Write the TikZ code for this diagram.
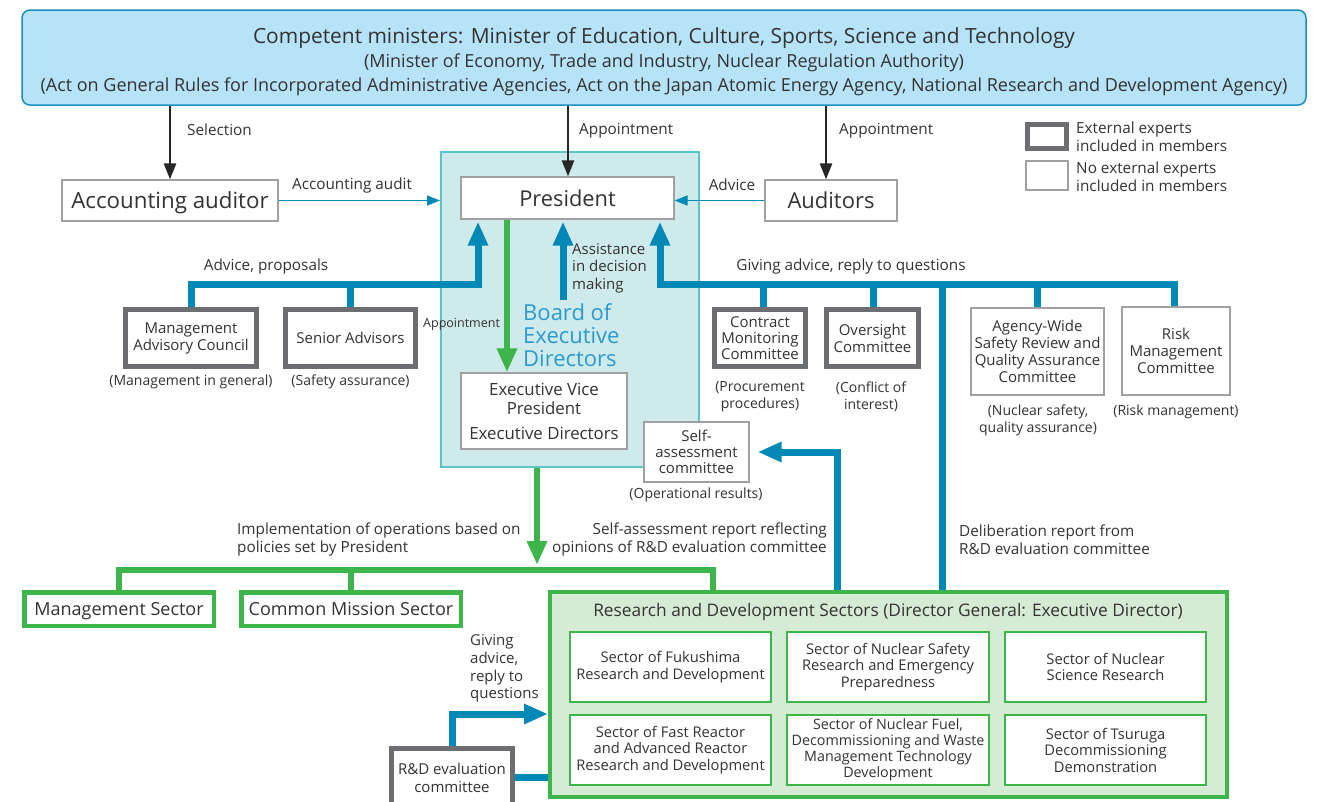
\documentclass[tikz,border=0pt]{standalone}
\usepackage{fontspec}
\setmainfont{Open Sans}
\usetikzlibrary{arrows.meta,calc}
\definecolor{topfill}{HTML}{B6E3F7}
\definecolor{topdraw}{HTML}{1B8DC0}
\definecolor{blu}{HTML}{0089B7}
\definecolor{boardfill}{HTML}{CFEAEA}
\definecolor{boarddraw}{HTML}{5BC4C4}
\definecolor{boardtxt}{HTML}{2A9AD0}
\definecolor{grn}{HTML}{3DB54A}
\definecolor{rdfill}{HTML}{D6EBD3}
\definecolor{thickgray}{HTML}{6D6E71}
\definecolor{thingray}{HTML}{A0A0A0}
\definecolor{txt}{HTML}{333333}
\newcommand\myfs[2]{\fontsize{#1}{#2}\selectfont}
\begin{document}
\begin{tikzpicture}[x=1pt,y=-1pt,
  box/.style={draw=thingray, line width=1.2pt, fill=white, inner sep=0pt, align=center, text=txt, font=\myfs{15}{17}},
  xbox/.style={box, draw=thickgray, line width=5pt},
  gbox/.style={box, draw=grn, line width=4.5pt, font=\myfs{18}{20}, text depth=0pt},
  sbox/.style={box, draw=grn, line width=2pt, font=\myfs{14.7}{16.5}},
  lab/.style={text=txt, font=\myfs{15.3}{18}, inner sep=0pt},
  captxt/.style={text=txt, font=\myfs{14}{17}, inner sep=0pt, align=center},
  blk/.style={line width=2.5pt, draw=black!85, -{Triangle[width=12pt,length=16pt]}},
  bthin/.style={line width=1.5pt, draw=blu, -{Triangle[width=10pt,length=13pt]}},
  bthick/.style={line width=7pt, draw=blu},
  barrow/.style={bthick, -{Triangle[width=19pt,length=24pt]}},
  gline/.style={line width=6.5pt, draw=grn},
  garrow/.style={gline, -{Triangle[width=19pt,length=24pt]}}
]
\useasboundingbox (0,0) rectangle (1329,801);
\clip (0,0) rectangle (1329,801);
\fill[white] (0,0) rectangle (1329,801);

% top box
\node[draw=topdraw, fill=topfill, line width=1.5pt, rounded corners=8pt, minimum width=1284, minimum height=95, inner sep=0pt] (top) at (664,57.5) {};
\node[align=center, text=txt, font=\myfs{18}{24}, inner sep=0pt] (toptxt) at (664,61.5)
 {{\myfs{20.9}{24}Competent ministers: Minister of Education, Culture, Sports, Science and Technology}\\
  (Minister of Economy, Trade and Industry, Nuclear Regulation Authority)\\
  (Act on General Rules for Incorporated Administrative Agencies, Act on the Japan Atomic Energy Agency, National Research and Development Agency)};

% board
\node[draw=boarddraw, fill=boardfill, line width=2pt, minimum width=258, minimum height=315, inner sep=0pt] (board) at (570,309.5) {};
\node[text=boardtxt, font=\myfs{22}{23}, align=left, anchor=north west, inner sep=0pt] (boardlab) at (523,303) {Board of\\Executive\\Directors};

% main boxes
\node[box, minimum width=216, minimum height=41, font=\myfs{22.3}{24}, text depth=0pt] (acc) at (170,200.5) {Accounting auditor};
\node[box, minimum width=213, minimum height=42, font=\myfs{21.8}{24}] (pres) at (567.5,198) {President};
\node[box, minimum width=132, minimum height=41, font=\myfs{22}{24}, text depth=0pt] (aud) at (831,200.5) {Auditors};
\node[box, minimum width=166, minimum height=76, font=\myfs{16.8}{19}] (evp) at (544,411) {Executive Vice\\President\\[6pt]Executive Directors};
\node[box, minimum width=105, minimum height=60, font=\myfs{15}{16}] (sac) at (696.5,452) {Self-\\assessment\\committee};

% committees
\node[xbox, minimum width=131, minimum height=57] (mac) at (191,338) {Management\\Advisory Council};
\node[xbox, minimum width=130, minimum height=57] (sen) at (350.5,338) {Senior Advisors};
\node[xbox, minimum width=91, minimum height=57, font=\myfs{15}{16.3}] (cmc) at (760,338) {Contract\\Monitoring\\Committee};
\node[xbox, minimum width=92, minimum height=57] (ovs) at (872.5,338) {Oversight\\Committee};
\node[box, minimum width=133, minimum height=87] (aws) at (1037.5,351.5) {Agency-Wide\\Safety Review and\\Quality Assurance\\Committee};
\node[box, minimum width=108, minimum height=88] (risk) at (1176,351) {Risk\\Management\\Committee};

% captions
\node[captxt] (capmac) at (191,382) {(Management in general)};
\node[captxt] (capsen) at (350.5,382) {(Safety assurance)};
\node[captxt] (capcmc) at (760,397) {(Procurement\\procedures)};
\node[captxt] (capovs) at (871,397) {(Conflict of\\interest)};
\node[captxt] (capaws) at (1038,420) {(Nuclear safety,\\quality assurance)};
\node[captxt] (caprisk) at (1176,412) {(Risk management)};
\node[captxt] (capsac) at (696,495) {(Operational results)};

% legend
\node[draw=thickgray, line width=5pt, minimum width=39, minimum height=24, inner sep=0pt] (leg1) at (1047,136.5) {};
\node[draw=thingray, line width=1.2pt, minimum width=42, minimum height=29, inner sep=0pt] (leg2) at (1047,175.5) {};
\node[lab, anchor=west, align=left] (leg1t) at (1076,137) {External experts\\included in members};
\node[lab, anchor=west, align=left] (leg2t) at (1076,177) {No external experts\\included in members};

% sectors
\node[gbox, minimum width=189.5, minimum height=33.5] (mgmt) at (119,609) {Management Sector};
\node[gbox, minimum width=219.5, minimum height=33.5] (cms) at (351,609) {Common Mission Sector};
\node[draw=grn, fill=rdfill, line width=4pt, minimum width=677, minimum height=205, inner sep=0pt] (rd) at (888.5,694.5) {};
\node[text=txt, font=\myfs{17.3}{20}, inner sep=0pt] (rdtitle) at (888,612) {Research and Development Sectors (Director General: Executive Director)};
\node[sbox, minimum width=201, minimum height=70] (s1) at (670.5,667) {Sector of Fukushima\\Research and Development};
\node[sbox, minimum width=202, minimum height=70] (s2) at (888,667) {Sector of Nuclear Safety\\Research and Emergency\\Preparedness};
\node[sbox, minimum width=201, minimum height=70] (s3) at (1105.5,667) {Sector of Nuclear\\Science Research};
\node[sbox, minimum width=201, minimum height=70] (s4) at (670.5,750) {Sector of Fast Reactor\\and Advanced Reactor\\Research and Development};
\node[sbox, minimum width=202, minimum height=70, font=\myfs{14.3}{16}] (s5) at (888,750) {Sector of Nuclear Fuel,\\Decommissioning and Waste\\Management Technology\\Development};
\node[sbox, minimum width=201, minimum height=70] (s6) at (1105.5,750) {Sector of Tsuruga\\Decommissioning\\Demonstration};
\node[xbox, minimum width=121, minimum height=60, font=\myfs{15}{18}] (rdeval) at (452,778) {R\&D evaluation\\committee};

% black arrows
\draw[blk] (top.south -| acc.north) -- (acc.north);
\draw[blk] ([xshift=0.5]top.south -| pres.north) -- ([xshift=0.5]pres.north);
\draw[blk] ([xshift=-5]top.south -| aud.north) -- ([xshift=-5]aud.north);
\node[lab, anchor=west] (lsel) at (187,130) {Selection};
\node[lab, anchor=west] (lapp1) at (579,131) {Appointment};
\node[lab, anchor=west] (lapp2) at (839,131) {Appointment};

% thin blue arrows
\draw[bthin] (acc.east) -- (acc.east -| board.west);
\node[lab] (lacc) at (352,186) {Accounting audit};
\draw[bthin] (aud.west) -- (aud.west -| pres.east);
\node[lab] (ladv) at (732,185) {Advice};

% thick blue left branch
\coordinate (lj) at (478,284);
\draw[barrow, shorten >=2pt] (mac.north) |- (lj) -- (lj |- pres.south);
\draw[bthick] (sen.north) -- (sen.north |- lj);
\node[lab] (ladvp) at (266,267) {Advice, proposals};

% assistance
\coordinate (asst) at (563,300);
\draw[barrow, shorten >=2pt] (asst) -- (asst |- pres.south);
\node[lab, anchor=west, align=left, font=\myfs{15}{17.5}] (lasst) at (572,268) {Assistance\\in decision\\making};

% right branch
\coordinate (rj) at (660,284);
\draw[barrow, shorten >=2pt] ([xshift=-2]risk.north) |- (rj) -- (rj |- pres.south);
\draw[bthick] ([xshift=3]cmc.north) -- ([xshift=3]cmc.north |- rj);
\draw[bthick] ([xshift=1]ovs.north) -- ([xshift=1]ovs.north |- rj);
\draw[bthick] (aws.north) -- (aws.north |- rj);
\coordinate (dj) at (942,284);
\draw[bthick] (dj) -- (dj |- rd.north);
\node[lab] (lgive) at (851,267) {Giving advice, reply to questions};

% green appointment
\draw[garrow] ([xshift=-60.5]pres.south) -- ([xshift=-37]evp.north);
\node[lab, font=\myfs{12.5}{15}, anchor=west] (lapp3) at (423,324) {Appointment};

% green implementation
\coordinate (gj) at (537,565);
\draw[garrow] (gj |- board.south) -- (gj);
\coordinate (gr) at (713,570);
\draw[gline] (mgmt.north) |- (gr) -- (gr |- rd.north);
\draw[gline] (cms.north) -- (cms.north |- gr);
\node[lab, anchor=west, align=left] (limpl) at (237,539.5) {Implementation of operations based on\\policies set by President};

% self-assessment arrow
\draw[barrow, shorten >=8pt] ([xshift=-51.5]rd.north) |- (sac.east);
\node[lab, anchor=east, align=right] (lsar) at (827,539.5) {Self-assessment report reflecting\\opinions of R\&D evaluation committee};
\node[lab, anchor=west, align=left] (ldel) at (959,539.5) {Deliberation report from\\R\&D evaluation committee};

% R&D evaluation arrows
\coordinate (rdin) at (548,714);
\draw[barrow] (rdeval.north) |- (rdin);
\draw[bthick] (rdeval.east |- 0,777) -- (rd.west |- 0,777);
\node[lab, anchor=west, align=left, font=\myfs{15}{17.7}] (lgive2) at (470,668.5) {Giving\\advice,\\reply to\\questions};
\end{tikzpicture}
\end{document}
